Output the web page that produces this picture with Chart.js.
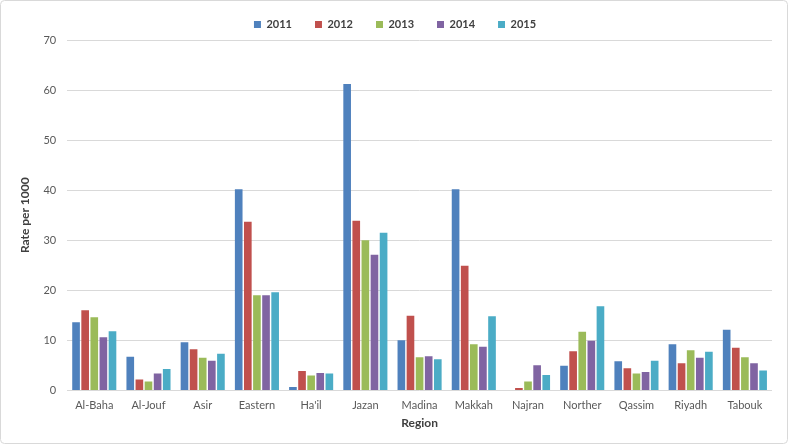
<!DOCTYPE html>
<html>
<head>
<meta charset="utf-8">
<script src="https://cdn.jsdelivr.net/npm/chart.js@4"></script>
<style>
  html, body { margin: 0; padding: 0; background: #fff; }
  #wrap { width: 788px; height: 444px; position: relative; }
</style>
</head>
<body>
<div id="wrap"><canvas id="chart" width="788" height="444"></canvas></div>
<script>
const regions = ["Al-Baha", "Al-Jouf", "Asir", "Eastern", "Ha'il", "Jazan", "Madina", "Makkah", "Najran", "Norther", "Qassim", "Riyadh", "Tabouk"];
const years = ["2011", "2012", "2013", "2014", "2015"];
const y2011 = [13.6, 6.7, 9.6, 40.2, 0.7, 61.2, 10.0, 40.2, 0, 4.9, 5.8, 9.2, 12.1];
const y2012 = [16.0, 2.2, 8.2, 33.7, 3.9, 33.9, 14.9, 24.9, 0.5, 7.8, 4.4, 5.4, 8.5];
const y2013 = [14.6, 1.8, 6.5, 19.0, 3.0, 30.0, 6.6, 9.2, 1.8, 11.7, 3.4, 8.0, 6.6];
const y2014 = [10.6, 3.4, 5.9, 19.0, 3.5, 27.1, 6.8, 8.7, 5.0, 9.9, 3.7, 6.5, 5.4];
const y2015 = [11.8, 4.3, 7.3, 19.6, 3.4, 31.5, 6.2, 14.8, 3.1, 16.8, 5.9, 7.7, 4.0];
const yTicks = [0, 10, 20, 30, 40, 50, 60, 70];

const colors = ["#4f81bd", "#c0504d", "#9bbb59", "#8064a2", "#4bacc6"];
const series = [y2011, y2012, y2013, y2014, y2015];

// light rounded frame round the whole chart
const frame = {
    id: "frame",
    afterDraw(chart) {
        const ctx = chart.ctx;
        ctx.save();
        ctx.strokeStyle = "#d9d9d9";
        ctx.lineWidth = 1;
        ctx.beginPath();
        ctx.roundRect(0.5, 0.5, chart.width - 1, chart.height - 1, 4);
        ctx.stroke();
        ctx.restore();
    }
};

const font = "Lato, 'Open Sans', sans-serif";

new Chart(document.getElementById("chart"), {
    type: "bar",
    data: {
        labels: regions,
        datasets: years.map((y, i) => ({
            label: y,
            data: series[i],
            backgroundColor: colors[i],
            categoryPercentage: 0.84,
            barPercentage: 0.84
        }))
    },
    options: {
        responsive: false,
        animation: false,
        layout: { padding: { top: -4, right: 16, bottom: 10, left: 18 } },
        plugins: {
            legend: {
                position: "top",
                labels: {
                    boxWidth: 7,
                    boxHeight: 7,
                    padding: 23,
                    color: "#404040",
                    font: { family: font, size: 11, weight: "bold" }
                }
            },
            tooltip: { enabled: false }
        },
        scales: {
            x: {
                grid: { display: false },
                border: { display: false },
                ticks: { color: "#595959", font: { family: font, size: 11 }, padding: 0 },
                title: { display: true, text: "Region", color: "#404040", font: { family: font, size: 12, weight: "bold" }, padding: { top: 4 } }
            },
            y: {
                min: 0,
                max: 70,
                afterBuildTicks(axis) { axis.ticks = yTicks.map(v => ({ value: v })); },
                grid: { color: "#d9d9d9", drawTicks: false },
                border: { display: false },
                ticks: { color: "#595959", font: { family: font, size: 11 }, padding: 11 },
                title: { display: true, text: "Rate per 1000", color: "#404040", font: { family: font, size: 12, weight: "bold" }, padding: 0 }
            }
        }
    },
    plugins: [frame]
});
</script>
</body>
</html>
